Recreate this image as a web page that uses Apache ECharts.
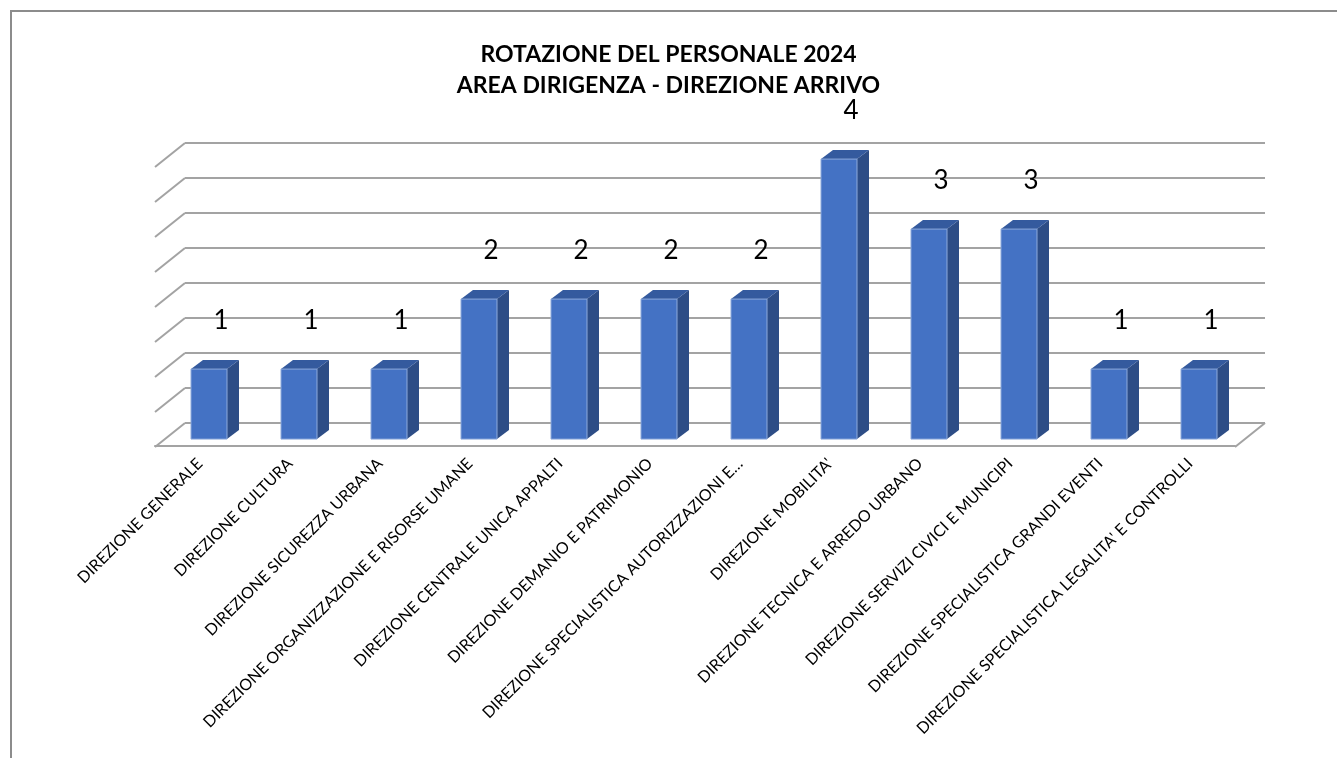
<!DOCTYPE html>
<html>
<head>
<meta charset="utf-8">
<title>Rotazione del personale 2024</title>
<script src="https://cdn.jsdelivr.net/npm/echarts@6/dist/echarts.min.js"></script>
<style>
html, body { margin: 0; padding: 0; background: #fff; }
#chart { width: 1337px; height: 758px; }
</style>
</head>
<body>
<div id="chart"></div>
<script>
// direzioni di arrivo
const categories = [
  'DIREZIONE GENERALE',
  'DIREZIONE CULTURA',
  'DIREZIONE SICUREZZA URBANA',
  'DIREZIONE ORGANIZZAZIONE E RISORSE UMANE',
  'DIREZIONE CENTRALE UNICA APPALTI',
  'DIREZIONE DEMANIO E PATRIMONIO',
  'DIREZIONE SPECIALISTICA AUTORIZZAZIONI E…',
  "DIREZIONE MOBILITA'",
  'DIREZIONE TECNICA E ARREDO URBANO',
  'DIREZIONE SERVIZI CIVICI E MUNICIPI',
  'DIREZIONE SPECIALISTICA GRANDI EVENTI',
  "DIREZIONE SPECIALISTICA LEGALITA' E CONTROLLI"
];
const values = [1, 1, 1, 2, 2, 2, 2, 4, 3, 3, 1, 1];
const yTicks = [0, 0.5, 1, 1.5, 2, 2.5, 3, 3.5, 4];

// effetto 3D stile excel
const DX = 30, DY = 24;
const gridColor = '#a3a3a3';
const font = 'Lato, "Open Sans", sans-serif';

let myChart = echarts.init(document.getElementById('chart'));

// pareti laterali e pavimento
function renderWall(params, api) {
  const p = api.coord([0, api.value(1)]);
  const x0 = params.coordSys.x;
  const x1 = x0 + params.coordSys.width;
  const style = { stroke: gridColor, lineWidth: 2 };
  const children = [{
    type: 'line',
    shape: { x1: x0, y1: p[1], x2: x0 - DX, y2: p[1] + DY },
    style: style
  }];
  if (api.value(1) === 0) {
    children.push({
      type: 'line',
      shape: { x1: x1, y1: p[1], x2: x1 - DX, y2: p[1] + DY },
      style: style
    });
  }
  return { type: 'group', children: children };
}

// barre 3D
function renderBar(params, api) {
  const v = api.value(1);
  const top = api.coord([api.value(0), v]);
  const base = api.coord([api.value(0), 0]);
  const w = api.size([1, 0])[0] * 0.4;
  const fx = top[0] - DX * 0.7 - w / 2;
  const fy = top[1] + DY * 0.67;
  const by = base[1] + DY * 0.67;
  const sx = DX * 0.4, sy = DY * 0.375;
  return {
    type: 'group',
    children: [
      {
        type: 'polygon',
        shape: { points: [[fx + w, fy], [fx + w + sx, fy - sy], [fx + w + sx, by - sy], [fx + w, by]] },
        style: { fill: '#2d4d86' }
      },
      {
        type: 'polygon',
        shape: { points: [[fx, fy], [fx + sx, fy - sy], [fx + w + sx, fy - sy], [fx + w, fy]] },
        style: { fill: '#345a9e' }
      },
      {
        type: 'rect',
        shape: { x: fx, y: fy, width: w, height: by - fy },
        style: { fill: '#4472c4', stroke: '#8eaadb', lineWidth: 1 }
      },
      {
        type: 'text',
        x: top[0] - 9,
        y: top[1] - 32,
        style: {
          text: String(v),
          fill: '#000',
          font: '26px ' + font,
          align: 'center',
          verticalAlign: 'middle'
        }
      }
    ]
  };
}

let option = {
  backgroundColor: '#fff',
  animation: false,
  title: {
    text: 'ROTAZIONE DEL PERSONALE 2024\nAREA DIRIGENZA - DIREZIONE ARRIVO',
    left: 'center',
    top: 34,
    textStyle: {
      fontFamily: font,
      fontSize: 23,
      fontWeight: 'bold',
      color: '#000',
      lineHeight: 31
    }
  },
  graphic: [{
    type: 'rect',
    shape: { x: 11, y: 11, width: 1400, height: 800 },
    style: { fill: 'none', stroke: '#8c8c8c', lineWidth: 2 },
    z: -1
  }],
  grid: [
    { left: 185, top: 143, width: 1080, height: 280 },
    { left: 155, top: 445, width: 1080, height: 1 }
  ],
  xAxis: [
    {
      type: 'category',
      gridIndex: 0,
      data: categories,
      show: false
    },
    {
      type: 'category',
      gridIndex: 1,
      data: categories,
      axisLine: { lineStyle: { color: gridColor, width: 2 } },
      axisTick: { length: 6, lineStyle: { color: gridColor, width: 2 } },
      axisLabel: {
        interval: 0,
        rotate: 45,
        margin: 15,
        color: '#000',
        fontFamily: font,
        fontSize: 16
      }
    }
  ],
  yAxis: [
    {
      type: 'value',
      gridIndex: 0,
      min: 0,
      max: 4,
      interval: 0.5,
      axisLine: { show: false },
      axisTick: { show: false },
      axisLabel: { show: false },
      splitLine: { lineStyle: { color: gridColor, width: 2 } }
    },
    {
      type: 'value',
      gridIndex: 1,
      show: false
    }
  ],
  series: [
    {
      type: 'custom',
      xAxisIndex: 0,
      yAxisIndex: 0,
      renderItem: renderWall,
      data: yTicks.map(t => [0, t]),
      silent: true
    },
    {
      type: 'custom',
      xAxisIndex: 0,
      yAxisIndex: 0,
      renderItem: renderBar,
      data: values.map((v, i) => [i, v])
    }
  ]
};

myChart.setOption(option);
</script>
</body>
</html>
